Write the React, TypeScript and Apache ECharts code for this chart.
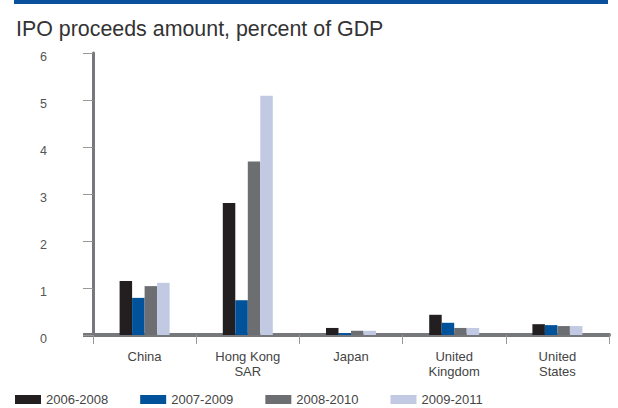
import React, { useEffect, useRef } from "react";
import * as echarts from "echarts";

const categories = ["China", "Hong Kong\nSAR", "Japan", "United\nKingdom", "United\nStates"];
const seriesNames = ["2006-2008", "2007-2009", "2008-2010", "2009-2011"];
const s2006_2008 = [1.15, 2.81, 0.15, 0.43, 0.23];
const s2007_2009 = [0.79, 0.74, 0.04, 0.26, 0.21];
const s2008_2010 = [1.04, 3.69, 0.09, 0.15, 0.19];
const s2009_2011 = [1.11, 5.09, 0.09, 0.15, 0.19];
const colors = ["#231f20", "#00529b", "#6d6e71", "#c2c9e3"];

export default function App() {
  const ref = useRef<HTMLDivElement>(null);
  useEffect(() => {
    if (!ref.current) return;
    const chart = echarts.init(ref.current, null, { renderer: "svg" });
    const data = [s2006_2008, s2007_2009, s2008_2010, s2009_2011];
    const font = "'Liberation Sans', Arial, Helvetica, sans-serif";
    chart.setOption({
      animation: false,
      backgroundColor: "#ffffff",
      textStyle: { fontFamily: font },
      title: {
        text: "IPO proceeds amount, percent of GDP",
        left: 11,
        top: 13,
        textStyle: { fontSize: 21.4, fontWeight: "normal", color: "#333333", fontFamily: font },
      },
      graphic: [
        { type: "rect", shape: { x: 14, y: 0, width: 594, height: 4 }, style: { fill: "#0b529c" } },
        { type: "rect", shape: { x: 83, y: 333, width: 10, height: 4 }, style: { fill: "#77787b" } },
      ],
      legend: {
        left: 10,
        bottom: -3,
        itemWidth: 26,
        itemHeight: 9,
        itemGap: 32,
        icon: "rect",
        data: seriesNames,
        textStyle: { fontSize: 13, color: "#444444", fontFamily: font },
      },
      grid: { left: 93, right: 9, top: 53, bottom: 73, containLabel: false },
      xAxis: {
        type: "category",
        data: categories,
        axisLine: { lineStyle: { color: "#77787b", width: 4 } },
        axisTick: { show: true, length: 9, lineStyle: { color: "#999999", width: 1 } },
        axisLabel: { fontSize: 13, color: "#444444", margin: 14, lineHeight: 15, fontFamily: font },
      },
      yAxis: {
        type: "value",
        min: 0,
        max: 6,
        interval: 1,
        splitLine: { show: false },
        axisLine: { show: true, lineStyle: { color: "#77787b", width: 3 } },
        axisTick: { show: true, length: 10, lineStyle: { color: "#999999", width: 1 } },
        axisLabel: { fontSize: 12.5, color: "#555555", margin: 46, verticalAlign: "top", lineHeight: 8, fontFamily: font },
      },
      series: seriesNames.map((name, i) => ({
        name,
        type: "bar",
        data: data[i],
        barWidth: 12.5,
        barGap: "0%",
        itemStyle: { color: colors[i] },
      })),
    });
    return () => chart.dispose();
  }, []);
  return <div ref={ref} style={{ width: 618, height: 408, position: "absolute", left: 0, top: 0 }} />;
}
